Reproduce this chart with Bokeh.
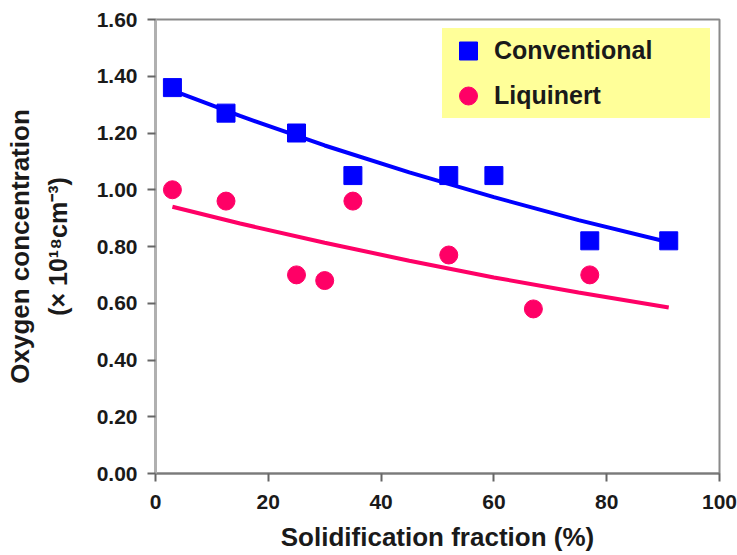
from bokeh.plotting import figure
from bokeh.models import (Range1d, FixedTicker, NumeralTickFormatter,
                          Legend, LegendItem, LinearAxis)
from bokeh.embed import file_html
from bokeh.resources import INLINE

# ---- data ----
conv_x = [3, 12.5, 25, 35, 52, 60, 77, 91]
conv_y = [1.36, 1.27, 1.20, 1.05, 1.05, 1.05, 0.82, 0.82]
liq_x = [3, 12.5, 25, 30, 35, 52, 67, 77]
liq_y = [1.00, 0.96, 0.70, 0.68, 0.96, 0.77, 0.58, 0.70]

# fitted trend curves
fit_x = [3, 15, 30, 45, 60, 75, 91]
conv_fit = [1.350, 1.260, 1.156, 1.061, 0.974, 0.893, 0.815]
liq_fit = [0.940, 0.881, 0.813, 0.750, 0.691, 0.638, 0.585]

x_ticks = [0, 20, 40, 60, 80, 100]
y_ticks = [0.0, 0.2, 0.4, 0.6, 0.8, 1.0, 1.2, 1.4, 1.6]

series_names = ["Conventional", "Liquinert"]
x_title = "Solidification fraction (%)"
y_title_1 = "Oxygen concentration"
y_title_2 = "(\u00d7 10\u00b9\u2078cm\u207b\u00b3)"

BLUE = "#0000FF"
PINK = "#FF0066"
FONT = "Liberation Sans"
TXT = "#1a1a1a"

p = figure(width=737, height=555, output_backend="svg", toolbar_location=None,
           x_range=Range1d(0, 100), y_range=Range1d(0, 1.6),
           min_border_left=155, min_border_right=18,
           min_border_top=19, min_border_bottom=82)

p.grid.visible = False
p.outline_line_color = "#8a8a8a"
p.outline_line_width = 2
p.background_fill_color = "white"
p.border_fill_color = "white"

for ax in (p.xaxis[0], p.yaxis[0]):
    ax.major_tick_out = 8
    ax.major_tick_in = 0
    ax.minor_tick_line_color = None
    ax.major_tick_line_color = "#666666"
    ax.major_tick_line_width = 2
    ax.major_label_text_font = FONT
    ax.major_label_text_font_style = "bold"
    ax.major_label_text_font_size = "21px"
    ax.major_label_text_color = TXT
    ax.axis_label_text_font = FONT
    ax.axis_label_text_font_style = "bold"
    ax.axis_label_text_color = TXT

p.xaxis.ticker = FixedTicker(ticks=x_ticks)
p.yaxis.ticker = FixedTicker(ticks=y_ticks)
p.yaxis.formatter = NumeralTickFormatter(format="0.00")
p.xaxis.axis_line_color = "#7a7a7a"
p.xaxis.axis_line_width = 2
p.yaxis.axis_line_color = "#b0b0b0"
p.yaxis.axis_line_width = 3
p.xaxis.major_label_standoff = 13
p.yaxis.major_label_standoff = 10

p.xaxis.axis_label = x_title
p.xaxis.axis_label_text_font_size = "26px"
p.xaxis.axis_label_standoff = 10

p.yaxis.axis_label = y_title_2
p.yaxis.axis_label_text_font_size = "25px"
p.yaxis.axis_label_standoff = 22

# outer title line of the y axis
outer = LinearAxis(ticker=FixedTicker(ticks=[]), axis_line_color=None,
                   major_tick_line_color=None, minor_tick_line_color=None,
                   major_label_text_color=None,
                   axis_label=y_title_1, axis_label_standoff=6,
                   axis_label_text_font=FONT, axis_label_text_font_style="bold",
                   axis_label_text_font_size="26px", axis_label_text_color=TXT)
p.add_layout(outer, "left")

# trend lines
p.line(fit_x, conv_fit, line_color=BLUE, line_width=4)
p.line(fit_x, liq_fit, line_color=PINK, line_width=4)

# markers
r_conv = p.scatter(conv_x, conv_y, marker="square", size=18,
                   fill_color=BLUE, line_color=BLUE)
r_liq = p.scatter(liq_x, liq_y, marker="circle", size=18,
                  fill_color=PINK, line_color=PINK)

legend = Legend(items=[LegendItem(label=series_names[0], renderers=[r_conv]),
                       LegendItem(label=series_names[1], renderers=[r_liq])],
                location=(287, 355), orientation="vertical",
                background_fill_color="#FFFF99", background_fill_alpha=1.0,
                border_line_color=None,
                padding=0, margin=0, spacing=0,
                glyph_width=52, glyph_height=45,
                label_standoff=0, label_width=216, label_height=30,
                label_text_font=FONT, label_text_font_style="bold",
                label_text_font_size="25px", label_text_color=TXT)
p.add_layout(legend, "center")

open("out.html", "w").write(file_html(p, INLINE))
